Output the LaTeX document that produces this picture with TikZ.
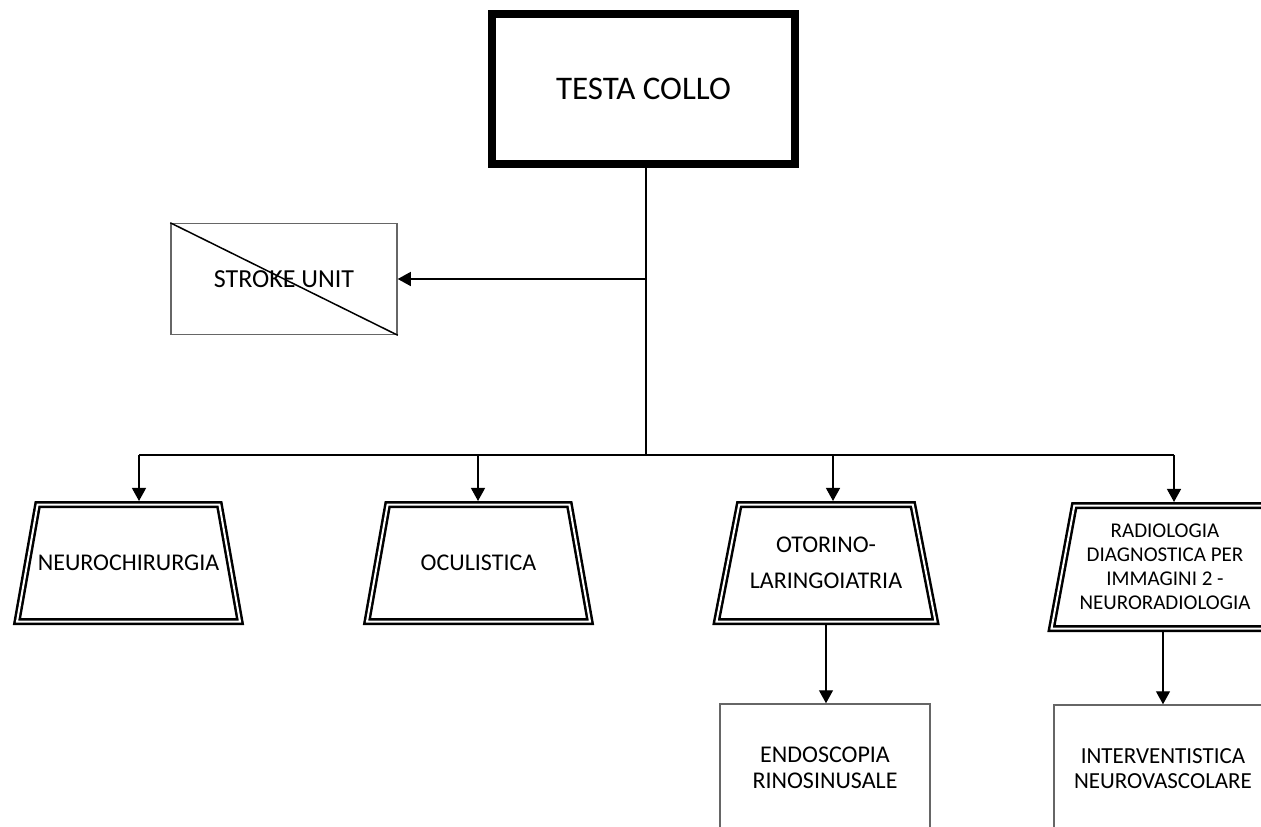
\documentclass[tikz,border=0pt]{standalone}
\usepackage{fontspec}
\setmainfont{Carlito}
\usetikzlibrary{arrows.meta, shapes.geometric}

\tikzset{
  mainbox/.style={draw, line width=8pt, outer sep=4pt, minimum width=303pt, minimum height=150pt, inner sep=0pt, font=\fontsize{33}{38}\selectfont},
  unit/.style={trapezium, trapezium angle=80, trapezium stretches body=true, draw, double, line width=2.5pt, double distance=2pt, outer sep=3.5pt, inner sep=0pt, text height=117pt, text depth=0pt},
  unittext/.style={align=center, inner sep=0pt, font=\fontsize{24}{26}\selectfont},
  subbox/.style={draw=black!60, line width=1.5pt, inner sep=0pt, align=center, font=\fontsize{23}{25}\selectfont},
  conn/.style={line width=1.3pt},
  arr/.style={conn, -{Triangle[width=14pt,length=13pt]}}
}

\begin{document}
\begin{tikzpicture}[x=1pt, y=-1pt]
  \useasboundingbox (0,0) rectangle (1261,827);
  \clip (0,0) rectangle (1261,827);

  % Top box
  \node[mainbox] (testa) at (643.5,89) {TESTA COLLO};

  % Stroke unit
  \node[subbox, minimum width=226pt, minimum height=111pt, font=\fontsize{26}{28}\selectfont] (stroke) at (284,279) {STROKE UNIT};
  \draw[line width=1.5pt] (stroke.north west) -- (stroke.south east);

  % Departments
  \node[unit, minimum width=223pt, label={[unittext]center:NEUROCHIRURGIA}] (neuro) at (128.5,563) {};
  \node[unit, minimum width=223pt, label={[unittext]center:OCULISTICA}] (ocul) at (478.5,563) {};
  \node[unit, minimum width=219pt, trapezium angle=79,
    label={[unittext, font=\fontsize{24}{36}\selectfont]center:OTORINO-\\LARINGOIATRIA}] (otor) at (826,563) {};
  \node[unit, minimum width=239pt, text height=123pt, trapezium angle=79.5,
    label={[unittext, font=\fontsize{21}{24}\selectfont, xshift=-6pt]center:RADIOLOGIA\\DIAGNOSTICA PER\\IMMAGINI 2 -\\NEURORADIOLOGIA}] (radio) at (1171,567) {};

  % Sub units
  \node[subbox, minimum width=210pt, minimum height=128pt, font=\fontsize{24}{26}\selectfont] (endo) at (825,768) {ENDOSCOPIA\\RINOSINUSALE};
  \node[subbox, minimum width=218pt, minimum height=128pt] (inter) at (1163,769) {INTERVENTISTICA\\NEUROVASCOLARE};

  % Junctions
  \coordinate (jA) at (646,279);
  \coordinate (jB) at (646,455);
  \coordinate (b1) at (139,455);
  \coordinate (b2) at (478,455);
  \coordinate (b3) at (833,455);
  \coordinate (b4) at (1174,455);

  % Connectors
  \draw[conn] (testa.south -| jB) -- (jB);
  \draw[arr] (jA) -- (stroke.east);
  \draw[conn] (b1) -- (b4);
  \draw[arr] (b1) -- (b1 |- neuro.north);
  \draw[arr] (b2) -- (b2 |- ocul.north);
  \draw[arr] (b3) -- (b3 |- otor.north);
  \draw[arr] (b4) -- (b4 |- radio.north);
  \draw[arr] (otor.south) -- (otor.south |- endo.north);
  \draw[arr] (inter.north |- radio.south) -- (inter.north);
\end{tikzpicture}
\end{document}
